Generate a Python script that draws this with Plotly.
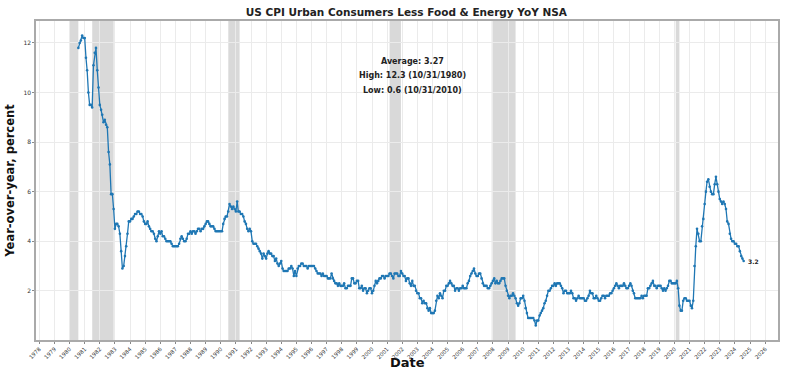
import plotly.graph_objects as go
import pandas as pd

# Monthly YoY values (percent), Jul 1980 .. Jul 2024
start_month = "1980-07-31"
values_by_year = {
    1980: [11.8, 12.0, 12.1, 12.3, 12.2, 12.2],
    1981: [11.4, 10.9, 10.0, 9.5, 9.5, 9.4, 11.1, 11.6, 11.8, 10.9, 10.2, 9.5],
    1982: [9.3, 9.1, 8.8, 8.9, 8.7, 8.6, 7.6, 7.1, 5.9, 5.9, 5.3, 4.5],
    1983: [4.7, 4.7, 4.6, 4.3, 3.6, 2.9, 3.0, 3.4, 3.8, 4.3, 4.8, 4.8],
    1984: [4.9, 4.9, 5.0, 5.1, 5.1, 5.2, 5.2, 5.1, 5.1, 5.0, 4.8, 4.7],
    1985: [4.7, 4.8, 4.6, 4.5, 4.4, 4.4, 4.3, 4.1, 4.0, 4.2, 4.4, 4.3],
    1986: [4.4, 4.2, 4.2, 4.1, 4.0, 4.0, 4.0, 4.0, 3.9, 3.8, 3.8, 3.8],
    1987: [3.8, 3.8, 3.9, 4.1, 4.2, 4.1, 4.0, 4.0, 4.1, 4.3, 4.3, 4.4],
    1988: [4.3, 4.4, 4.4, 4.3, 4.4, 4.5, 4.5, 4.4, 4.5, 4.5, 4.6, 4.7],
    1989: [4.8, 4.8, 4.7, 4.6, 4.6, 4.6, 4.5, 4.4, 4.4, 4.4, 4.4, 4.4],
    1990: [4.4, 4.7, 4.9, 5.0, 5.0, 5.2, 5.5, 5.4, 5.3, 5.4, 5.3, 5.2],
    1991: [5.6, 5.2, 5.2, 5.1, 5.1, 5.0, 4.8, 4.7, 4.5, 4.4, 4.5, 4.4],
    1992: [4.0, 3.9, 3.9, 3.9, 3.8, 3.7, 3.6, 3.5, 3.3, 3.5, 3.4, 3.3],
    1993: [3.5, 3.6, 3.5, 3.5, 3.4, 3.4, 3.2, 3.3, 3.1, 3.0, 3.1, 3.2],
    1994: [2.9, 2.8, 2.8, 2.8, 2.8, 2.9, 2.9, 3.0, 2.9, 2.6, 2.8, 2.6],
    1995: [2.9, 3.0, 3.0, 3.1, 3.1, 3.0, 3.0, 3.0, 2.9, 3.0, 3.0, 3.0],
    1996: [3.0, 3.0, 2.9, 2.8, 2.7, 2.7, 2.7, 2.6, 2.7, 2.6, 2.6, 2.6],
    1997: [2.5, 2.5, 2.5, 2.7, 2.5, 2.4, 2.3, 2.3, 2.2, 2.3, 2.2, 2.2],
    1998: [2.2, 2.3, 2.1, 2.1, 2.2, 2.2, 2.2, 2.5, 2.5, 2.3, 2.3, 2.4],
    1999: [2.4, 2.1, 2.1, 2.2, 2.0, 2.1, 2.1, 1.9, 2.0, 2.1, 2.1, 1.9],
    2000: [2.0, 2.2, 2.4, 2.3, 2.4, 2.5, 2.5, 2.6, 2.6, 2.5, 2.6, 2.6],
    2001: [2.6, 2.7, 2.7, 2.6, 2.5, 2.7, 2.7, 2.7, 2.6, 2.6, 2.8, 2.7],
    2002: [2.6, 2.6, 2.4, 2.5, 2.5, 2.3, 2.2, 2.4, 2.2, 2.2, 2.0, 1.9],
    2003: [1.9, 1.7, 1.7, 1.5, 1.6, 1.5, 1.5, 1.3, 1.2, 1.3, 1.1, 1.1],
    2004: [1.1, 1.2, 1.6, 1.8, 1.7, 1.9, 1.8, 1.7, 2.0, 2.0, 2.2, 2.2],
    2005: [2.3, 2.4, 2.3, 2.2, 2.2, 2.0, 2.1, 2.1, 2.0, 2.1, 2.1, 2.2],
    2006: [2.1, 2.1, 2.1, 2.3, 2.4, 2.6, 2.7, 2.8, 2.9, 2.7, 2.6, 2.6],
    2007: [2.7, 2.7, 2.5, 2.3, 2.2, 2.2, 2.2, 2.1, 2.1, 2.2, 2.3, 2.4],
    2008: [2.5, 2.3, 2.4, 2.3, 2.3, 2.4, 2.5, 2.5, 2.5, 2.2, 2.0, 1.8],
    2009: [1.7, 1.8, 1.8, 1.9, 1.8, 1.7, 1.5, 1.4, 1.5, 1.7, 1.7, 1.8],
    2010: [1.6, 1.3, 1.1, 0.9, 0.9, 0.9, 0.9, 0.9, 0.8, 0.6, 0.8, 0.8],
    2011: [1.0, 1.1, 1.2, 1.3, 1.5, 1.6, 1.8, 2.0, 2.0, 2.1, 2.2, 2.2],
    2012: [2.3, 2.2, 2.3, 2.3, 2.3, 2.2, 2.1, 1.9, 2.0, 2.0, 1.9, 1.9],
    2013: [1.9, 2.0, 1.9, 1.7, 1.7, 1.6, 1.7, 1.8, 1.7, 1.7, 1.7, 1.7],
    2014: [1.6, 1.6, 1.7, 1.8, 2.0, 1.9, 1.9, 1.7, 1.7, 1.8, 1.7, 1.6],
    2015: [1.6, 1.7, 1.8, 1.8, 1.7, 1.8, 1.8, 1.8, 1.9, 1.9, 2.0, 2.1],
    2016: [2.2, 2.3, 2.2, 2.1, 2.2, 2.2, 2.2, 2.3, 2.2, 2.1, 2.1, 2.2],
    2017: [2.3, 2.2, 2.0, 1.9, 1.7, 1.7, 1.7, 1.7, 1.7, 1.8, 1.7, 1.8],
    2018: [1.8, 1.8, 2.1, 2.1, 2.2, 2.3, 2.4, 2.2, 2.2, 2.1, 2.2, 2.2],
    2019: [2.2, 2.1, 2.0, 2.1, 2.0, 2.1, 2.2, 2.4, 2.4, 2.3, 2.3, 2.3],
    2020: [2.3, 2.4, 2.1, 1.4, 1.2, 1.2, 1.6, 1.7, 1.7, 1.6, 1.6, 1.6],
    2021: [1.4, 1.3, 1.6, 3.0, 3.8, 4.5, 4.3, 4.0, 4.0, 4.6, 4.9, 5.5],
    2022: [6.0, 6.4, 6.5, 6.2, 6.0, 5.9, 5.9, 6.3, 6.6, 6.3, 6.0, 5.7],
    2023: [5.6, 5.5, 5.6, 5.5, 5.3, 4.8, 4.7, 4.3, 4.1, 4.0, 4.0, 3.9],
    2024: [3.9, 3.8, 3.8, 3.6, 3.4, 3.3, 3.2],
}

recession_starts = ["1980-01-01", "1981-07-01", "1990-07-01", "2001-03-01", "2007-12-01", "2020-02-01"]
recession_ends = ["1980-07-31", "1982-11-30", "1991-03-31", "2001-11-30", "2009-06-30", "2020-04-30"]

stats_lines = ["Average: 3.27", "High: 12.3 (10/31/1980)", "Low: 0.6 (10/31/2010)"]
title_text = "US CPI Urban Consumers Less Food & Energy YoY NSA"
x_title = "Date"
y_title = "Year-over-year, percent"
y_ticks = [2, 4, 6, 8, 10, 12]

values = [v for yr in sorted(values_by_year) for v in values_by_year[yr]]
dates = pd.date_range(start_month, periods=len(values), freq="ME")

fig = go.Figure()
for s, e in zip(recession_starts, recession_ends):
    fig.add_vrect(x0=s, x1=e, fillcolor="#d9d9d9", opacity=1, line_width=0, layer="below")

fig.add_trace(go.Scatter(
    x=dates, y=values, mode="lines+markers",
    line=dict(color="#1f77b4", width=1.3),
    marker=dict(color="#1f77b4", size=2.6),
    showlegend=False, hoverinfo="skip",
))

fig.add_annotation(x=dates[-1], y=values[-1], text=f"{values[-1]:.1f}", showarrow=False,
                   xanchor="left", xshift=2, font=dict(family="DejaVu Sans", size=6, color="#222", weight="bold"))

stat_y = [0.893, 0.849, 0.802]
for txt, yy in zip(stats_lines, stat_y):
    fig.add_annotation(x=0.507, y=yy, xref="paper", yref="paper", text=txt, showarrow=False,
                       font=dict(family="DejaVu Sans", size=8, color="#222", weight="bold"))

# x-axis title placed as a paper annotation to match the reference position
fig.add_annotation(x=0.5, y=-0.069, xref="paper", yref="paper", text=x_title, showarrow=False,
                   yanchor="middle", font=dict(family="DejaVu Sans", size=13, color="#111", weight="bold"))

fig.update_layout(
    width=800, height=376,
    paper_bgcolor="white", plot_bgcolor="white",
    margin=dict(l=36, r=22, t=21, b=36, autoexpand=False),
    title=dict(text=title_text, x=0.508, xanchor="center", y=0.968, yanchor="middle",
               font=dict(family="DejaVu Sans", size=10.5, color="#222", weight="bold")),
    font=dict(family="DejaVu Sans"),
)
fig.update_xaxes(
    type="date", range=["1977-10-12", "2026-11-07"], automargin=False,
    tick0="1978-01-01", dtick="M12", tickformat="%Y", tickangle=-45,
    tickfont=dict(size=5.5, color="#333"),
    ticks="outside", ticklen=2, tickcolor="#888",
    showgrid=True, gridcolor="#ebebeb", gridwidth=1,
    showline=True, linecolor="#aaaaaa", linewidth=1.5, mirror=True,
)
fig.update_yaxes(
    range=[0.015, 12.885], tickvals=y_ticks, automargin=False,
    tickfont=dict(size=6, color="#333"),
    ticks="outside", ticklen=2, tickcolor="#888",
    showgrid=True, gridcolor="#ebebeb", gridwidth=1, zeroline=False,
    showline=True, linecolor="#aaaaaa", linewidth=1.5, mirror=True,
    title=dict(text=y_title, font=dict(size=11.5, color="#111", weight="bold"), standoff=6),
)

fig.write_html("out.html", config={"displayModeBar": False},
               post_script="document.body.style.margin='0px';document.body.style.overflow='hidden';")
